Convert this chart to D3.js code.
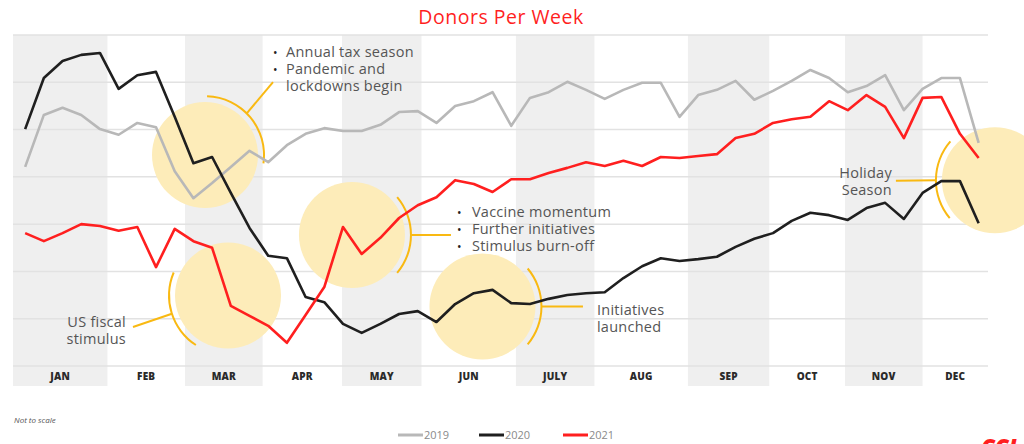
<!DOCTYPE html>
<html lang="en">
  <head>
    <meta charset="UTF-8" />
    <title>Donors Per Week</title>
    <style>
      body { margin: 0; background: #fff; }
      text { font-family: "Open Sans", sans-serif; }
    </style>
  </head>
  <body>
    <svg id="svg" width="1024" height="444"></svg>
    <script src="https://d3js.org/d3.v7.min.js"></script>
    <script>
      // month labels and where each month starts (in week units)
      const months = ["JAN", "FEB", "MAR", "APR", "MAY", "JUN", "JULY", "AUG", "SEP", "OCT", "NOV", "DEC"];
      const monthStart = [-0.65, 4.4, 8.55, 12.7, 16.95, 21.2, 26.25, 30.45, 35.45, 39.8, 43.85, 48.0];
      const lastWeekEdge = 51.5;

      const weeks = d3.range(52);

      // weekly donors, relative index (not to scale)
      const donors2019 = [42.1, 53.1, 54.6, 53.1, 50.1, 48.9, 51.4, 50.5, 41.2, 35.5, 38.7, 42.1, 45.5, 43.1,
        46.7, 49.1, 50.3, 49.7, 49.7, 51.0, 53.7, 53.9, 51.4, 55.0, 56.0, 57.9, 50.8, 56.7, 57.9, 60.1,
        58.4, 56.5, 58.4, 59.9, 59.9, 52.7, 57.3, 58.4, 60.3, 56.3, 58.2, 60.3, 62.6, 60.9, 57.9, 59.2,
        61.5, 54.1, 58.6, 60.9, 60.9, 47.2];
      const donors2020 = [50.1, 60.9, 64.5, 65.8, 66.2, 58.6, 61.5, 62.2, 52.7, 42.9, 44.2, 36.6, 29.2, 23.3,
        22.8, 14.6, 13.5, 8.9, 7.0, 8.9, 11.0, 11.6, 9.3, 13.1, 15.4, 16.1, 13.3, 13.1, 14.2, 15.0,
        15.4, 15.6, 18.6, 21.1, 22.8, 22.2, 22.6, 23.1, 25.2, 26.9, 28.1, 30.7, 32.4, 31.9, 30.9, 33.4,
        34.5, 31.1, 36.6, 39.1, 39.1, 30.2];
      const donors2021 = [28.1, 26.4, 28.1, 30.0, 29.6, 28.6, 29.4, 20.9, 29.0, 26.4, 25.0, 12.7, 10.6, 8.5,
        4.9, 10.8, 16.7, 29.4, 23.7, 27.1, 31.3, 34.0, 35.7, 39.3, 38.5, 36.8, 39.5, 39.5, 40.8, 41.9,
        43.1, 42.3, 43.4, 42.3, 44.2, 44.0, 44.4, 44.8, 48.2, 49.1, 51.4, 52.2, 52.7, 56.0, 54.1, 57.3,
        54.8, 48.2, 56.7, 56.9, 49.1, 44.0];

      const seriesNames = ["2019", "2020", "2021"];
      const seriesValues = [donors2019, donors2020, donors2021];
      const seriesColors = ["#b8b8b8", "#1f1f1f", "#ff1f1f"];

      const svg = d3.select("#svg");

      const xScale = d3.scaleLinear().domain([-0.65, 51.5]).range([13, 988]);
      const yScale = d3.scaleLinear().domain([0, 70]).range([366, 35]);

      // title
      svg.append("text")
        .attr("x", 501).attr("y", 24)
        .attr("text-anchor", "middle")
        .attr("fill", "#ff1f1f")
        .attr("font-size", 19.5)
        .attr("letter-spacing", 0.5)
        .text("Donors Per Week");

      // alternating month bands
      const monthEnd = monthStart.slice(1).concat([lastWeekEdge]);
      svg.append("g")
        .selectAll("rect")
        .data(months)
        .join("rect")
        .attr("x", (d, i) => xScale(monthStart[i]))
        .attr("y", 35)
        .attr("width", (d, i) => xScale(monthEnd[i]) - xScale(monthStart[i]))
        .attr("height", 351)
        .attr("fill", (d, i) => (i % 2 === 0 ? "#efefef" : "none"));

      // horizontal gridlines (no labels, chart is not to scale)
      svg.append("g")
        .selectAll("line")
        .data(d3.range(0, 71, 10))
        .join("line")
        .attr("x1", 13).attr("x2", 988)
        .attr("y1", (d) => yScale(d)).attr("y2", (d) => yScale(d))
        .attr("stroke", "#e2e2e2")
        .attr("stroke-width", 1.5);

      // month labels
      svg.append("g")
        .selectAll("text")
        .data(months)
        .join("text")
        .attr("x", (d, i) => (xScale(monthStart[i]) + xScale(monthEnd[i])) / 2)
        .attr("y", 380)
        .attr("text-anchor", "middle")
        .attr("font-size", 10)
        .attr("font-weight", 800)
        .attr("letter-spacing", 0.2)
        .attr("fill", "#2a2a2a")
        .text((d) => d);

      // annotation bubbles
      const annotations = [
        { week: 9.62, value: 44.6, a0: 2, a1: 98, lead: 45, lines: ["Annual tax season", "Pandemic and", "lockdowns begin"], bullets: [true, true, false] },
        { week: 10.85, value: 14.9, a0: 213, a1: 293, lead: 252, lines: ["US fiscal", "stimulus"] },
        { week: 17.48, value: 27.7, a0: 50, a1: 130, lead: 90, lines: ["Vaccine momentum", "Further initiatives", "Stimulus burn-off"], bullets: [true, true, true] },
        { week: 24.46, value: 12.6, a0: 50, a1: 130, lead: 90, lines: ["Initiatives", "launched"] },
        { week: 51.87, value: 39.3, a0: 230, a1: 311, lead: 270, lines: ["Holiday", "Season"] },
      ];
      // leader end and text placement, relative to bubble centre
      const layout = [
        { lx: 68, ly: -73, tx: 81, bx: 68, ty: -98, anchor: "start" },
        { lx: -95, ly: 31.5, tx: -102, ty: 31.5, anchor: "end" },
        { lx: 99, ly: 0, tx: 120, bx: 105, ty: -18, anchor: "start" },
        { lx: 100.5, ly: 0, tx: 114.5, ty: 8.5, anchor: "start" },
        { lx: -59, ly: 0.5, lx0: -99, tx: -103, ty: -2, anchor: "end" },
      ];

      const bubbleR = 53;
      const arcR = 59;
      const gold = "#f9b912";
      const annG = svg.append("g");
      const arcGen = d3.arc().innerRadius(arcR - 1).outerRadius(arcR + 1);

      annotations.forEach((a, i) => {
        const cx = xScale(a.week);
        const cy = yScale(a.value);
        const L = layout[i];
        const g = annG.append("g");

        g.append("circle")
          .attr("cx", cx).attr("cy", cy).attr("r", bubbleR)
          .attr("fill", "#fdecb9");

        g.append("path")
          .attr("transform", `translate(${cx},${cy})`)
          .attr("d", arcGen({ startAngle: (a.a0 * Math.PI) / 180, endAngle: (a.a1 * Math.PI) / 180 }))
          .attr("fill", gold);

        const ang = (a.lead * Math.PI) / 180;
        const sx = cx + arcR * Math.sin(ang);
        const sy = cy - arcR * Math.cos(ang);
        g.append("line")
          .attr("x1", sx).attr("y1", sy)
          .attr("x2", cx + (L.lx0 !== undefined ? L.lx0 : L.lx))
          .attr("y2", cy + L.ly)
          .attr("stroke", gold)
          .attr("stroke-width", 2);

        a.lines.forEach((t, j) => {
          const y = cy + L.ty + j * 17;
          g.append("text")
            .attr("x", cx + L.tx).attr("y", y)
            .attr("text-anchor", L.anchor)
            .attr("font-size", 14.5)
            .attr("letter-spacing", 0.25)
            .attr("fill", "#555")
            .text(t);
          if (a.bullets && a.bullets[j]) {
            g.append("text")
              .attr("x", cx + L.bx).attr("y", y)
              .attr("font-size", 12)
              .attr("fill", "#222")
              .text("•");
          }
        });
      });

      // the three year lines
      const line = d3.line()
        .x((d, i) => xScale(weeks[i]))
        .y((d) => yScale(d));

      svg.append("g")
        .selectAll("path")
        .data(seriesValues)
        .join("path")
        .attr("d", (d) => line(d))
        .attr("fill", "none")
        .attr("stroke", (d, i) => seriesColors[i])
        .attr("stroke-width", 2.6)
        .attr("stroke-linejoin", "round");

      // footnote
      svg.append("text")
        .attr("x", 14).attr("y", 423)
        .attr("font-size", 8)
        .attr("font-style", "italic")
        .attr("fill", "#555")
        .text("Not to scale");

      // legend
      const legendX = [398, 479, 563];
      const legend = svg.append("g")
        .selectAll("g")
        .data(seriesNames)
        .join("g")
        .attr("transform", (d, i) => `translate(${legendX[i]}, 435)`);
      legend.append("line")
        .attr("x1", 0).attr("x2", 25)
        .attr("stroke", (d, i) => seriesColors[i])
        .attr("stroke-width", 3);
      legend.append("text")
        .attr("x", 26).attr("y", 4)
        .attr("font-size", 11)
        .attr("fill", "#8a8a8a")
        .text((d) => d);

      // logo, cut off at the bottom edge as in the source image
      svg.append("text")
        .attr("x", 981).attr("y", 455)
        .attr("font-size", 22)
        .attr("font-weight", 800)
        .attr("font-style", "italic")
        .attr("fill", "#ff1f1f")
        .text("CCI");
    </script>
  </body>
</html>
